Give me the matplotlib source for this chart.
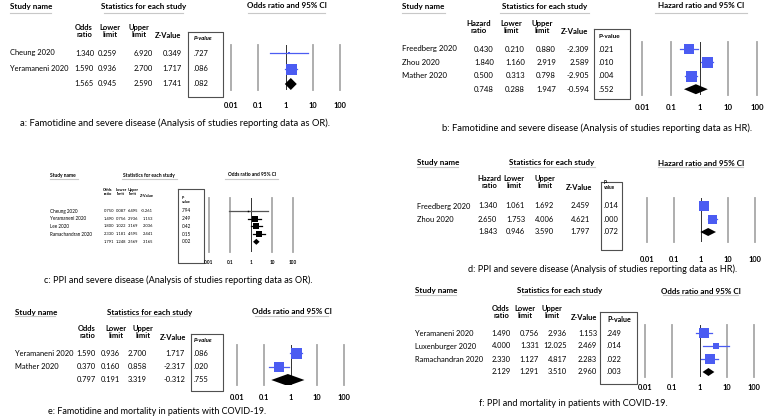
import numpy as np
import matplotlib.pyplot as plt
from matplotlib.transforms import blended_transform_factory

plt.rcParams['font.family'] = ['Lato', 'DejaVu Sans']

W, H = 765, 418

# ---- data ----
a_study = ['Cheung 2020', 'Yeramaneni 2020']
a_est = [1.340, 1.590]
a_lo = [0.259, 0.936]
a_hi = [6.920, 2.700]
a_z = [0.349, 1.717]
a_p = ['.727', '.086']
a_wt = [0.27, 1.0]
a_sum = [1.565, 0.945, 2.590, 1.741, '.082']

b_study = ['Freedberg 2020', 'Zhou 2020', 'Mather 2020']
b_est = [0.430, 1.840, 0.500]
b_lo = [0.210, 1.160, 0.313]
b_hi = [0.880, 2.919, 0.798]
b_z = [-2.309, 2.589, -2.905]
b_p = ['.021', '.010', '.004']
b_wt = [0.95, 1.0, 1.0]
b_sum = [0.748, 0.288, 1.947, -0.594, '.552']

c_study = ['Cheung 2020', 'Yeramaneni 2020', 'Lee 2020', 'Ramachandran 2020']
c_est = [0.750, 1.490, 1.800, 2.330]
c_lo = [0.087, 0.756, 1.022, 1.181]
c_hi = [6.495, 2.936, 3.169, 4.595]
c_z = [-0.261, 1.153, 2.036, 2.441]
c_p = ['.794', '.249', '.042', '.015']
c_wt = [0.25, 0.9, 1.0, 0.9]
c_sum = [1.791, 1.248, 2.569, 3.165, '.002']

d_study = ['Freedberg 2020', 'Zhou 2020']
d_est = [1.340, 2.650]
d_lo = [1.061, 1.753]
d_hi = [1.692, 4.006]
d_z = [2.459, 4.621]
d_p = ['.014', '.000']
d_wt = [1.0, 0.9]
d_sum = [1.843, 0.946, 3.590, 1.797, '.072']

e_study = ['Yeramaneni 2020', 'Mather 2020']
e_est = [1.590, 0.370]
e_lo = [0.936, 0.160]
e_hi = [2.700, 0.858]
e_z = [1.717, -2.317]
e_p = ['.086', '.020']
e_wt = [1.0, 0.9]
e_sum = [0.797, 0.191, 3.319, -0.312, '.755']

f_study = ['Yeramaneni 2020', 'Luxenburger 2020', 'Ramachandran 2020']
f_est = [1.490, 4.000, 2.330]
f_lo = [0.756, 1.331, 1.127]
f_hi = [2.936, 12.025, 4.817]
f_z = [1.153, 2.469, 2.283]
f_p = ['.249', '.014', '.022']
f_wt = [1.0, 0.65, 0.93]
f_sum = [2.129, 1.291, 3.510, 2.960, '.003']

ticks = [0.01, 0.1, 1, 10, 100]
tick_labels = ['0.01', '0.1', '1', '10', '100']

captions = {
    'a': 'a: Famotidine and severe disease (Analysis of studies reporting data as OR).',
    'b': 'b: Famotidine and severe disease (Analysis of studies reporting data as HR).',
    'c': 'c: PPI and severe disease (Analysis of studies reporting data as OR).',
    'd': 'd: PPI and severe disease (Analysis of studies reporting data as HR).',
    'e': 'e: Famotidine and mortality in patients with COVID-19.',
    'f': 'f: PPI and mortality in patients with COVID-19.',
}

# ---- layout, in pixels of the 765x418 picture ----
lay = {
    'a': dict(head_y=6, ul_y=13, study_x=10, ul_study=(10, 51), stats_cx=144, ul_stats=(104, 183),
              ci_cx=287, ul_ci=(248, 325), hc=[84, 110, 139, 168], vr=[94, 117, 153, 182],
              col_y=31, z_y=35, p_x=194, p_head_y=38, pbox=(188, 223, 32, 97), row0=53, step=15.5,
              plot=(231, 340, 45, 90), tick_y=105, cap=(175, 123), fs=5.4, hfs=5.8, cap_fs=6.75,
              box_px=11, dia_px=12, p_head='P-value', p_italic=True, p_fs=4.2),
    'b': dict(head_y=6, ul_y=13, study_x=402, ul_study=(402, 445), stats_cx=545, ul_stats=(500, 589),
              ci_cx=701, ul_ci=(655, 747), hc=[479, 511, 542, 575], vr=[494, 525, 556, 589],
              col_y=27, z_y=32, p_x=599, p_head_y=37, pbox=(594, 630, 29, 99), row0=49, step=13.4,
              plot=(642, 757, 42, 95), tick_y=108, cap=(597, 128), fs=5.6, hfs=5.8, cap_fs=6.75,
              box_px=11, dia_px=10, p_head='P-value', p_italic=False, p_fs=4.6),
    'c': dict(head_y=175, ul_y=179, study_x=50, ul_study=(50, 78), stats_cx=149, ul_stats=(122, 177),
              ci_cx=252, ul_ci=(225, 278), hc=[108, 121, 133, 147], vr=[114, 126, 138, 153],
              col_y=192, z_y=196, p_x=182, p_head_y=200, pbox=(178, 204, 189, 263), row0=211, step=7.7,
              plot=(209, 293, 198, 252), tick_y=262, cap=(178, 280), fs=3.3, hfs=3.5, cap_fs=6.6,
              val_fs=2.9, box_px=6, dia_px=6, p_head='P-\nvalue', p_italic=False, p_fs=2.6),
    'd': dict(head_y=163, ul_y=167, study_x=417, ul_study=(417, 458), stats_cx=552, ul_stats=(510, 595),
              ci_cx=701, ul_ci=(658, 743), hc=[489, 514, 545, 579], vr=[497, 525, 554, 590],
              col_y=182, z_y=187, p_x=604, p_head_y=185, pbox=(601, 622, 182, 250), row0=206, step=13,
              plot=(647, 755, 198, 242), tick_y=259, cap=(603, 269), fs=5.4, hfs=5.8, cap_fs=6.6,
              box_px=10, dia_px=8, p_head='P-\nvalue', p_italic=False, p_fs=3.4),
    'e': dict(head_y=312, ul_y=316, study_x=15, ul_study=(15, 55), stats_cx=150, ul_stats=(110, 190),
              ci_cx=292, ul_ci=(255, 328), hc=[87, 116, 143, 173], vr=[96, 120, 147, 185],
              col_y=332, z_y=337, p_x=194, p_head_y=341, pbox=(191, 223, 334, 391), row0=353, step=13.5,
              plot=(237, 344, 345, 385), tick_y=398, cap=(157, 412), fs=5.4, hfs=5.8, cap_fs=6.5,
              box_px=11, dia_px=12, p_head='P-value', p_italic=True, p_fs=4.2),
    'f': dict(head_y=291, ul_y=295, study_x=415, ul_study=(415, 456), stats_cx=560, ul_stats=(522, 598),
              ci_cx=701, ul_ci=(663, 738), hc=[501, 525, 552, 584], vr=[511, 539, 567, 597],
              col_y=312, z_y=317, p_x=607, p_head_y=320, pbox=(600, 637, 312, 384), row0=333, step=13,
              plot=(645, 754, 325, 377), tick_y=388, cap=(573, 403), fs=5.4, hfs=5.8, cap_fs=6.6,
              box_px=10, dia_px=8, p_head='P-value', p_italic=False, p_fs=5.0),
}

BLUE = '#4b5cf2'
GRID = '#a8a8a8'


def draw_panel(fig, bg, key, study, est, lo, hi, z, p, wt, summ, measure, color):
    L = lay[key]
    fs = L['fs']
    hfs = L['hfs']
    vfs = L.get('val_fs', fs)
    ul_kw = dict(color='#c8c8c8', lw=0.8)

    # headers
    bg.text(L['study_x'], L['head_y'], 'Study name', fontsize=hfs, fontweight='bold', va='center')
    bg.text(L['stats_cx'], L['head_y'], 'Statistics for each study', fontsize=hfs,
            fontweight='bold', ha='center', va='center')
    bg.text(L['ci_cx'], L['head_y'], f'{measure} ratio and 95% CI', fontsize=hfs,
            fontweight='bold', ha='center', va='center')
    for seg in (L['ul_study'], L['ul_stats'], L['ul_ci']):
        bg.plot(seg, [L['ul_y'], L['ul_y']], **ul_kw)

    heads = [f'{measure}\nratio', 'Lower\nlimit', 'Upper\nlimit']
    for h, x in zip(heads, L['hc'][:3]):
        bg.text(x, L['col_y'], h, fontsize=vfs, fontweight='bold', ha='center', va='center',
                linespacing=1.15)
    bg.text(L['hc'][3], L['z_y'], 'Z-Value', fontsize=vfs, fontweight='bold', ha='center', va='center')
    bg.text(L['p_x'], L['p_head_y'], L['p_head'], fontsize=L['p_fs'], fontweight='bold',
            style='italic' if L['p_italic'] else 'normal', va='center', linespacing=1.0)

    x0, x1, y0, y1 = L['pbox']
    bg.plot([x0, x1, x1, x0, x0], [y0, y0, y1, y1, y0], color='#505050', lw=0.8)

    # table rows
    rows = [(s, e, l, h, zz, pp) for s, e, l, h, zz, pp in zip(study, est, lo, hi, z, p)]
    rows.append(('', summ[0], summ[1], summ[2], summ[3], summ[4]))
    for i, (s, e, l, h, zz, pp) in enumerate(rows):
        y = L['row0'] + i * L['step']
        bg.text(L['study_x'], y, s, fontsize=fs, va='center')
        for v, x in zip((e, l, h, zz), L['vr']):
            bg.text(x, y, f'{v:.3f}', fontsize=vfs, ha='right', va='center')
        bg.text(L['p_x'], y, pp, fontsize=fs, va='center')

    # forest axes
    px0, px1, py0, py1 = L['plot']
    ax = fig.add_axes([px0 / W, 1 - py1 / H, (px1 - px0) / W, (py1 - py0) / H])
    ax.set_xscale('log')
    ax.set_xlim(0.01, 100)
    ax.set_ylim((py1 - L['row0']) / L['step'], (py0 - L['row0']) / L['step'])
    ax.axis('off')
    for t in ticks:
        if t == 1:
            ax.axvline(t, color='#303030', lw=0.7, zorder=1)
        else:
            ax.axvline(t, color=GRID, lw=1.3, zorder=1, clip_on=False)

    for i in range(len(study)):
        ci_col = '#555555' if (color == 'black' and wt[i] < 0.5) else color
        ax.plot([lo[i], hi[i]], [i, i], color=ci_col, lw=0.9, zorder=2)
        ax.plot(est[i], i, marker='s', ls='none', color=color,
                ms=L['box_px'] * wt[i] * 0.72, mew=0, zorder=3)
    n = len(study)
    hh = L['dia_px'] / 2 / L['step']
    ax.fill([summ[1], summ[0], summ[2], summ[0]], [n, n - hh, n, n + hh],
            color='black', lw=0, zorder=3)

    tr = blended_transform_factory(ax.transData, bg.transData)
    for t, lab in zip(ticks, tick_labels):
        bg.text(t, L['tick_y'], lab, transform=tr, fontsize=fs, fontweight='bold',
                ha='center', va='center')

    bg.text(L['cap'][0], L['cap'][1], captions[key], fontsize=L['cap_fs'],
            ha='center', va='center')


fig = plt.figure(figsize=(W / 100, H / 100), dpi=100)
bg = fig.add_axes([0, 0, 1, 1])
bg.set_xlim(0, W)
bg.set_ylim(H, 0)
bg.axis('off')

draw_panel(fig, bg, 'a', a_study, a_est, a_lo, a_hi, a_z, a_p, a_wt, a_sum, 'Odds', BLUE)
draw_panel(fig, bg, 'b', b_study, b_est, b_lo, b_hi, b_z, b_p, b_wt, b_sum, 'Hazard', BLUE)
draw_panel(fig, bg, 'c', c_study, c_est, c_lo, c_hi, c_z, c_p, c_wt, c_sum, 'Odds', 'black')
draw_panel(fig, bg, 'd', d_study, d_est, d_lo, d_hi, d_z, d_p, d_wt, d_sum, 'Hazard', BLUE)
draw_panel(fig, bg, 'e', e_study, e_est, e_lo, e_hi, e_z, e_p, e_wt, e_sum, 'Odds', BLUE)
draw_panel(fig, bg, 'f', f_study, f_est, f_lo, f_hi, f_z, f_p, f_wt, f_sum, 'Odds', BLUE)

fig.savefig('out.png', dpi=100)
